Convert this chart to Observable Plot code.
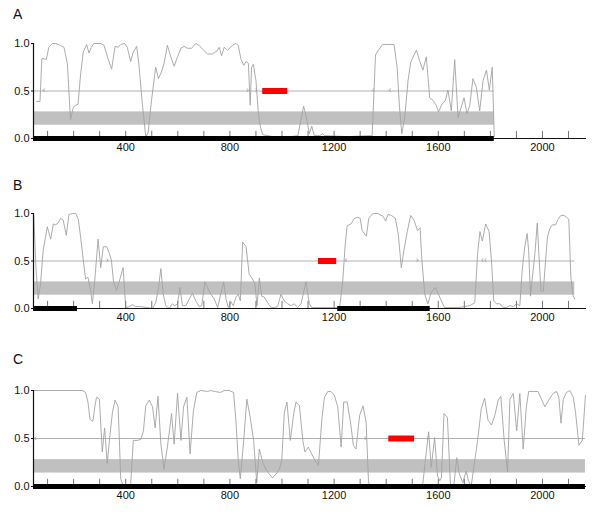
<!DOCTYPE html>
<html>
<head>
<meta charset="utf-8">
<script src="https://cdn.jsdelivr.net/npm/d3@7"></script>
<script src="https://cdn.jsdelivr.net/npm/@observablehq/plot@0.6"></script>
<style>
  body { margin: 0; background: white; width: 600px; height: 520px; position: relative; overflow: hidden; font-family: "Liberation Sans", Arial, sans-serif; }
  .panel { position: absolute; left: 0; }
  .letter { position: absolute; left: 13px; font-size: 14px; color: #111; }
</style>
</head>
<body>
<div class="letter" style="top:6px">A</div>
<div class="letter" style="top:177px">B</div>
<div class="letter" style="top:351px">C</div>
<div id="pA" class="panel" style="top:33px"></div>
<div id="pB" class="panel" style="top:203px"></div>
<div id="pC" class="panel" style="top:380px"></div>
<script>
// ---------- data ----------
const xLabelTicks = [400, 800, 1200, 1600, 2000];
const xMinorTicks = [100,200,300,400,500,600,700,800,900,1000,1100,1200,1300,1400,1500,1600,1700,1800,1900,2000,2100];
const yTicks = [0, 0.5, 1];
const bandLow = 0.14, bandHigh = 0.28;

// panel A
const seqEndA = 1815;
const lineA = [[58,.39],[71,.39],[78,.84],[86,.84],[95,.83],[105,.96],[118,1],[131,1],[150,.98],[163,.96],[176,.79],[188,.2],[199,.33],[208,.35],[217,.36],[227,.68],[237,.91],[250,.99],[259,.9],[268,.96],[278,1],[304,1],[317,.98],[332,.84],[346,.73],[359,.97],[371,.96],[381,.99],[396,1],[406,.96],[419,.81],[429,.91],[442,.97],[451,.77],[464,.36],[477,.02],[486,.06],[499,.4],[515,.75],[526,.63],[537,.7],[547,.79],[560,.98],[573,.86],[586,.76],[599,.86],[612,.95],[624,.97],[637,.95],[653,.95],[669,1],[682,.98],[695,.94],[714,.89],[733,.89],[750,.92],[759,.96],[768,.87],[778,.96],[791,.93],[810,.98],[823,1],[832,.98],[842,.84],[853,.77],[862,.81],[871,.79],[878,.35],[883,.75],[890,.78],[900,.61],[909,.28],[917,.12],[926,.04],[945,.03],[983,.01],[1035,.02],[1061,.03],[1083,.34],[1096,.19],[1105,.05],[1114,.13],[1124,.03],[1144,.03],[1157,.05],[1163,.03],[1250,.02],[1346,.03],[1359,.88],[1370,.93],[1387,.99],[1407,.99],[1430,.99],[1442,.75],[1451,.33],[1460,.05],[1471,.22],[1484,.61],[1494,.8],[1507,.88],[1516,.93],[1528,.82],[1541,.72],[1554,.86],[1567,.43],[1580,.4],[1592,.35],[1601,.28],[1614,.36],[1627,.4],[1637,.51],[1650,.29],[1663,.83],[1676,.22],[1688,.33],[1699,.43],[1710,.26],[1721,.35],[1733,.63],[1746,.54],[1759,.29],[1772,.61],[1785,.72],[1796,.51],[1807,.75],[1815,.02]];
const blackA = [[46, 1815]];
const redA = [[926, 1022]];
const markA = [[86,"‹"],[868,"›"],[900,"›"],[1351,"‹"],[1415,"‹"]];

// panel B
const seqEndB = 2124;
const lineB = [[47,.98],[56,.4],[64,.1],[73,.26],[83,.61],[92,.75],[99,.86],[112,.73],[122,.89],[131,.88],[140,.9],[150,.95],[160,.93],[172,.77],[182,.99],[195,1],[208,1],[218,.94],[227,.75],[237,.51],[246,.31],[255,.33],[265,.19],[272,.05],[281,.29],[294,.73],[304,.43],[314,.65],[327,.65],[336,.59],[345,.51],[353,.29],[365,.19],[378,.31],[390,.43],[400,.01],[413,.02],[426,.04],[438,.02],[458,.02],[483,.01],[503,0],[515,.06],[526,.22],[535,.42],[544,.15],[554,.03],[567,0],[579,.05],[588,.03],[599,.05],[608,.22],[618,.03],[631,.03],[644,.1],[656,.16],[669,.08],[682,.02],[692,.03],[704,.28],[714,.22],[727,.15],[740,.1],[753,.01],[763,.13],[776,.28],[785,.1],[794,.01],[804,.07],[813,.03],[823,.12],[832,.15],[840,.08],[849,.7],[862,.65],[874,.36],[887,.31],[896,.26],[904,.03],[913,.32],[922,.13],[932,.12],[945,.06],[958,.01],[971,.01],[983,.02],[996,.15],[1009,.08],[1022,.05],[1035,.03],[1047,.05],[1060,.01],[1073,.05],[1092,.28],[1105,.05],[1114,.01],[1221,.01],[1233,.28],[1242,.65],[1250,.87],[1265,.89],[1278,.95],[1291,.96],[1300,.95],[1308,.82],[1324,.76],[1333,.95],[1349,1],[1368,1],[1388,.97],[1398,.92],[1407,.99],[1420,.98],[1435,.95],[1446,.79],[1458,.43],[1468,.61],[1481,.81],[1494,.98],[1507,.93],[1520,.82],[1530,.85],[1537,.51],[1548,.15],[1560,.05],[1573,.17],[1588,.22],[1599,.16],[1612,.08],[1624,.01],[1676,.01],[1701,.02],[1721,.03],[1740,.06],[1751,.58],[1760,.81],[1769,.71],[1782,.89],[1795,.81],[1804,.51],[1813,.08],[1823,.05],[1836,.05],[1849,.01],[1862,.01],[1875,.03],[1888,.02],[1901,.05],[1913,.03],[1922,.4],[1932,.65],[1941,.79],[1947,.61],[1954,.13],[1964,.4],[1971,.58],[1980,.9],[1986,.58],[1994,.19],[2003,.18],[2009,.4],[2019,.75],[2028,.84],[2037,.88],[2050,.88],[2060,.94],[2071,.98],[2083,.98],[2092,.96],[2101,.94],[2109,.33],[2118,.13],[2124,.1]];
const blackB = [[46, 215], [1214, 1569]];
const redB = [[1140, 1210]];
const markB = [[329,"›"],[1246,"‹"],[1519,"›"],[1770,"‹"],[1781,"‹"]];

// panel C
const seqEndC = 2165;
const lineC = [[47,1],[233,1],[246,.98],[255,.88],[263,.7],[274,.68],[282,.84],[288,.93],[299,.91],[310,.36],[319,.61],[329,.24],[340,.55],[349,.77],[359,.9],[371,.83],[381,.08],[391,0],[410,0],[419,.02],[429,.48],[444,.48],[458,.49],[468,.58],[477,.84],[490,.9],[503,.83],[513,.61],[524,.94],[535,.44],[547,.18],[560,.41],[576,.76],[586,.44],[599,.97],[612,.48],[622,.83],[635,.93],[647,.34],[660,.79],[673,.98],[688,1],[714,.99],[727,1],[740,.99],[765,.98],[778,1],[797,1],[814,.98],[823,.69],[832,.27],[840,.08],[853,.48],[865,.91],[878,.72],[891,.48],[903,.04],[913,.39],[926,.25],[938,.18],[951,.13],[964,.09],[977,.13],[990,.18],[999,.27],[1009,.77],[1019,.88],[1032,.48],[1045,.76],[1054,.88],[1067,.84],[1080,.48],[1088,.36],[1101,.41],[1114,.34],[1127,.27],[1140,.22],[1153,.7],[1163,.93],[1176,.99],[1188,.99],[1201,.95],[1214,.83],[1227,.41],[1237,.88],[1250,.88],[1263,.67],[1274,.43],[1284,.39],[1298,.74],[1311,.84],[1323,.67],[1332,.06],[1336,0],[1537,0],[1541,.04],[1554,.36],[1563,.57],[1573,.2],[1586,.51],[1597,.11],[1606,.06],[1612,.09],[1622,.76],[1635,.72],[1647,0],[1660,.02],[1671,.3],[1681,.13],[1694,.04],[1707,.16],[1716,.06],[1726,0],[1738,.23],[1751,.48],[1765,.81],[1778,.92],[1791,.69],[1804,.64],[1817,.74],[1830,.9],[1840,.94],[1853,.48],[1866,.15],[1875,.91],[1888,.97],[1901,.58],[1913,.97],[1926,.39],[1938,.83],[1947,.99],[1964,.99],[1983,.99],[1996,.91],[2009,.83],[2024,.9],[2041,.97],[2054,.99],[2063,.93],[2071,.66],[2080,.91],[2092,.98],[2105,1],[2118,.93],[2127,.77],[2140,.43],[2153,.48],[2165,.95]];
const blackC = [[46, 2165]];
const redC = [[1410, 1509]];
const markC = [[54,"‹"],[1320,"›"],[1560,"›"]];

const xDomain = [46, 2169];

// ---------- drawing ----------
function panel(line, seqEnd, black, red, marks, innerH) {
  const start = xDomain[0];
  const pts = line.map(([p, v]) => ({p, v}));
  const spans = (arr) => arr.map(([a, b]) => ({a, b}));
  return Plot.plot({
    width: 600,
    height: innerH + 35,
    marginLeft: 33, marginRight: 14, marginTop: 10, marginBottom: 25,
    x: {domain: xDomain},
    y: {domain: [0, 1]},
    style: {fontFamily: "'Liberation Sans', Arial, sans-serif", fontSize: "11px", color: "#111", background: "white", overflow: "visible"},
    marks: [
      Plot.rect([{a: start, b: seqEnd}], {x1: "a", x2: "b", y1: bandLow, y2: bandHigh, fill: "#c0c0c0"}),
      Plot.ruleY([0.5], {x1: start, x2: seqEnd, stroke: "#a8a8a8", strokeWidth: 0.9}),
      Plot.text(marks.map(([p, t]) => ({p, t})), {x: "p", y: 0.5, text: "t", fontSize: 9, fill: "#999", dy: -0.5}),
      Plot.line(pts, {x: "p", y: "v", stroke: "#a3a3a3", strokeWidth: 0.9}),
      Plot.ruleY([0], {stroke: "#111", strokeWidth: 1}),
      Plot.ruleX(xMinorTicks, {y1: 0, y2: 0.075, stroke: "#777", strokeWidth: 1}),
      Plot.ruleY(spans(black), {y: 0, x1: "a", x2: "b", stroke: "black", strokeWidth: 5}),
      Plot.ruleY(spans(red), {y: 0.5, x1: "a", x2: "b", stroke: "#ff0000", strokeWidth: 6}),
      Plot.ruleX([start], {y1: 0, y2: 1, stroke: "#111", strokeWidth: 1.2}),
      Plot.axisY({ticks: yTicks, tickFormat: d3.format(".1f"), tickSize: 2, tickPadding: 2, fontSize: 11, label: null}),
      Plot.axisX({ticks: xLabelTicks, tickFormat: d => String(d), tickSize: 0, tickPadding: 5, fontSize: 11, label: null})
    ]
  });
}

document.getElementById("pA").append(panel(lineA, seqEndA, blackA, redA, markA, 95));
document.getElementById("pB").append(panel(lineB, seqEndB, blackB, redB, markB, 95));
document.getElementById("pC").append(panel(lineC, seqEndC, blackC, redC, markC, 96));
</script>
</body>
</html>
